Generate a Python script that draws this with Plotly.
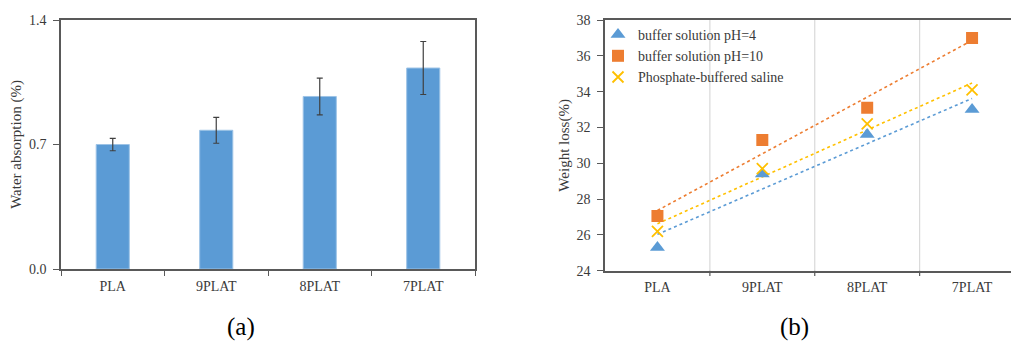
import plotly.graph_objects as go
import numpy as np

# ---- data ----
categories = ["PLA", "9PLAT", "8PLAT", "7PLAT"]
water_absorption = [0.70, 0.78, 0.97, 1.13]
water_err = [0.035, 0.073, 0.103, 0.149]

ph4 = [25.3, 29.4, 31.6, 33.0]
ph10 = [27.05, 31.3, 33.1, 37.0]
pbs = [26.2, 29.7, 32.2, 34.1]

W, H = 1019, 347
OFF = 8  # page body margin
FONT = "Liberation Serif"
AXC = "#595959"
TXT = "#3a3a3a"
BLUE, ORANGE, YELLOW = "#5B9BD5", "#ED7D31", "#FFC000"

def px_x(p):
    return (p - OFF) / W

def px_y(p):
    return 1 - (p - OFF) / H

fig = go.Figure()

# (a) bars
fig.add_trace(go.Bar(
    x=categories, y=water_absorption,
    marker=dict(color=BLUE, line=dict(color="#9DC3E6", width=1)),
    error_y=dict(type="data", array=water_err, color="#404040", thickness=1.2, width=3),
    xaxis="x", yaxis="y", showlegend=False,
))

# (b) scatter + linear trend lines
xi = np.arange(len(categories))
series = [
    ("buffer solution pH=4", ph4, BLUE, dict(symbol="triangle-up", size=13, color=BLUE)),
    ("buffer solution pH=10", ph10, ORANGE, dict(symbol="square", size=12, color=ORANGE)),
    ("Phosphate-buffered saline", pbs, YELLOW,
     dict(symbol="x-thin", size=11, color=YELLOW, line=dict(color=YELLOW, width=1.8))),
]
for name, vals, col, mk in series:
    k, b = np.polyfit(xi, vals, 1)
    fig.add_trace(go.Scatter(
        x=xi, y=k * xi + b, mode="lines",
        line=dict(color=col, width=1.6, dash="dot"),
        xaxis="x2", yaxis="y2", showlegend=False, hoverinfo="skip",
    ))
for name, vals, col, mk in series:
    fig.add_trace(go.Scatter(
        x=xi, y=vals, mode="markers", name=name, marker=mk,
        xaxis="x2", yaxis="y2",
    ))

axis_common = dict(
    showline=True, linecolor=AXC, linewidth=1.5, mirror=True,
    ticks="outside", tickcolor=AXC, tickwidth=1.2,
    tickfont=dict(family=FONT, size=14, color=TXT),
    zeroline=False, automargin=False,
)

fig.update_layout(
    width=W, height=H,
    margin=dict(l=0, r=0, t=0, b=0),
    paper_bgcolor="white", plot_bgcolor="white",
    font=dict(family=FONT, color=TXT),
    bargap=0.68,
    xaxis=dict(
        domain=[px_x(61), px_x(475)], anchor="y",
        type="category", tickson="boundaries", ticklen=5,
        showgrid=False, ticklabelstandoff=3, **axis_common,
    ),
    yaxis=dict(
        domain=[px_y(269), px_y(20)], anchor="x",
        range=[0, 1.4], tickvals=[0, 0.7, 1.4], ticktext=["0.0", "0.7", "1.4"],
        ticklen=6, showgrid=False, ticklabelstandoff=4,
        title=dict(text="Water absorption (%)", font=dict(family=FONT, size=15, color=TXT), standoff=4),
        **axis_common,
    ),
    xaxis2=dict(
        domain=[px_x(605), px_x(1024.5)], anchor="y2",
        range=[-0.5, 3.5],
        tickvals=[0, 1, 2, 3], ticktext=categories,
        ticklen=0, showgrid=False, ticklabelstandoff=3,
        **axis_common,
    ),
    yaxis2=dict(
        domain=[px_y(270.7), px_y(20)], anchor="x2",
        range=[24, 38], dtick=2, ticklen=6, showgrid=False, ticklabelstandoff=4,
        title=dict(text="Weight loss(%)", font=dict(family=FONT, size=15, color=TXT), standoff=3),
        **axis_common,
    ),
    legend=dict(
        x=px_x(598), y=px_y(19), xanchor="left", yanchor="top",
        bgcolor="rgba(255,255,255,0)", font=dict(family=FONT, size=14, color=TXT),
        itemwidth=30, tracegroupgap=0,
    ),
    annotations=[
        dict(text="(a)", x=px_x(241), y=px_y(327), xref="paper", yref="paper",
             xanchor="center", yanchor="middle",
             showarrow=False, font=dict(family=FONT, size=25, color="black")),
        dict(text="(b)", x=px_x(794), y=px_y(327), xref="paper", yref="paper",
             xanchor="center", yanchor="middle",
             showarrow=False, font=dict(family=FONT, size=25, color="black")),
    ],
)

# vertical gridlines and boundary ticks of panel (b), drawn at category boundaries
for bnd in [0.5, 1.5, 2.5]:
    fig.add_shape(type="line", xref="x2", yref="y2", x0=bnd, x1=bnd, y0=24, y1=38,
                  line=dict(color="#D9D9D9", width=1.2), layer="below")
    fig.add_shape(type="line", xref="x2", yref="paper", x0=bnd, x1=bnd,
                  y0=px_y(270.7), y1=px_y(276), line=dict(color=AXC, width=1.2))

fig.write_html("out.html")
